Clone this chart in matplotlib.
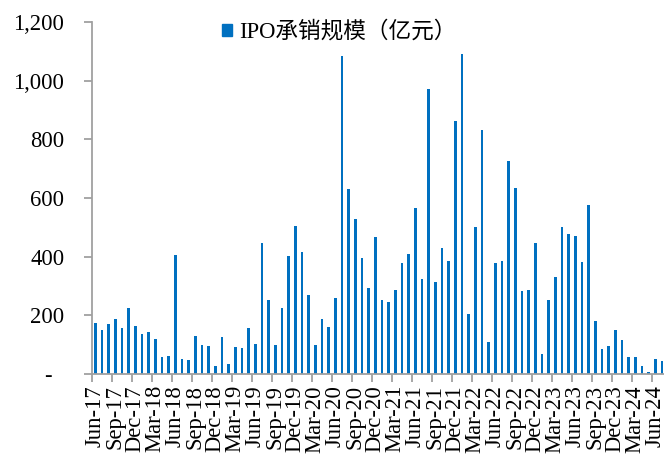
import matplotlib
matplotlib.use("Agg")
import matplotlib.pyplot as plt
from matplotlib.patches import Patch

months = ["Jun", "Jul", "Aug", "Sep", "Oct", "Nov", "Dec", "Jan", "Feb", "Mar", "Apr", "May"]

# Monthly IPO underwriting size (100 million CNY), Jun-2017 .. Jul-2024
values = [
    173, 150, 169, 186, 157, 224, 163, 136, 143, 118, 58, 62,      # Jun-17 .. May-18
    406, 51, 48, 130, 98, 95, 27, 126, 34, 93, 88, 156,            # Jun-18 .. May-19
    103, 446, 252, 98, 224, 402, 505, 416, 269, 100, 186, 160,     # Jun-19 .. May-20
    260, 1085, 630, 529, 394, 292, 467, 251, 245, 285, 378, 408,   # Jun-20 .. May-21
    567, 324, 970, 314, 428, 385, 863, 1092, 206, 500, 833, 108,   # Jun-21 .. May-22
    377, 384, 726, 633, 282, 285, 446, 68, 251, 331, 500, 476,     # Jun-22 .. May-23
    469, 381, 576, 180, 84, 94, 149, 117, 57, 57, 26, 8,           # Jun-23 .. May-24
    52, 43,                                                        # Jun-24 .. Jul-24
]

x_labels = []
for i in range(len(values)):
    m = months[i % 12]
    year = 17 + (i + 5) // 12
    x_labels.append(f"{m}-{year:02d}")

y_ticks = [0, 200, 400, 600, 800, 1000, 1200]
y_tick_labels = ["-  ", "200", "400", "600", "800", "1,000", "1,200"]
legend_label = "IPO承销规模（亿元）"

plt.rcParams['font.family'] = ['Liberation Serif', 'Noto Sans CJK SC', 'DejaVu Sans']
FS = 16.3
bar_color = "#0070C0"
axis_color = "#A0A0A0"

fig = plt.figure(figsize=(6.64, 4.57), dpi=100)
ax = fig.add_axes([92 / 664, 83 / 457, 572 / 664, 352 / 457])

xs = list(range(len(values)))
ax.bar(xs, values, width=0.38, color=bar_color, zorder=2)

ax.set_ylim(0, 1200)
ax.set_xlim(-0.5, len(values) - 0.5 - 0.2)
ax.set_yticks(y_ticks)
ax.set_yticklabels(y_tick_labels, fontsize=FS)

# major ticks at category boundaries, labels at category centres
major = [i - 0.5 for i in range(0, len(values), 3)]
minor = [i for i in range(0, len(values), 3)]
ax.set_xticks(major)
ax.set_xticklabels([""] * len(major))
ax.set_xticks(minor, minor=True)
ax.set_xticklabels([x_labels[i] for i in minor], minor=True, rotation=90, fontsize=FS)
ax.tick_params(axis='x', which='major', length=6, width=1.3, color=axis_color, direction='out')
ax.tick_params(axis='x', which='minor', length=0, pad=8)
ax.tick_params(axis='y', length=6, width=1.3, color=axis_color, direction='out', pad=14)

for s in ["top", "right"]:
    ax.spines[s].set_visible(False)
for s in ["left", "bottom"]:
    ax.spines[s].set_color(axis_color)
    ax.spines[s].set_linewidth(1.3)

handle = Patch(facecolor=bar_color, edgecolor=bar_color)
fig.legend([handle], [legend_label], loc='center left',
           bbox_to_anchor=(222 / 664, 1 - 32 / 457), frameon=False,
           fontsize=FS, handlelength=0.45, handleheight=0.45,
           handletextpad=0.3, borderpad=0, borderaxespad=0)

fig.savefig("out.png", dpi=100)
